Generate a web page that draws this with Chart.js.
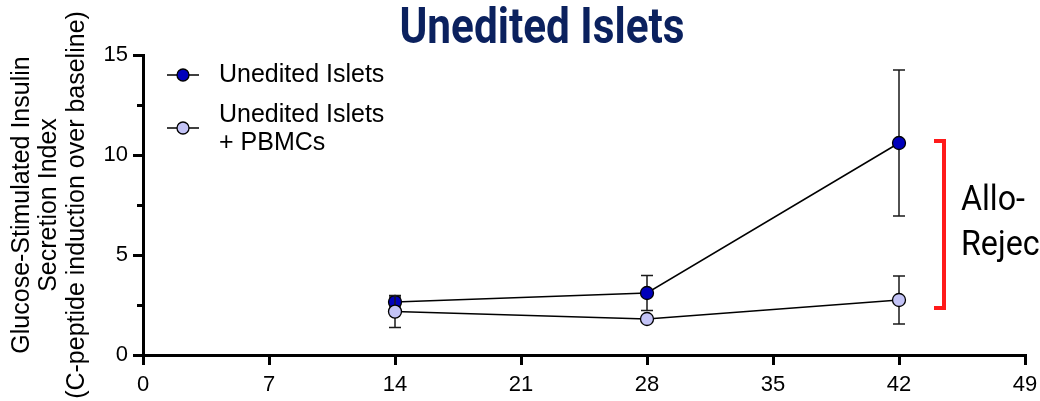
<!DOCTYPE html>
<html>
<head>
<meta charset="utf-8">
<script src="https://cdn.jsdelivr.net/npm/chart.js@4/dist/chart.umd.min.js"></script>
<style>
  html, body { margin: 0; padding: 0; background: #fff; overflow: hidden; }
  #wrap { width: 1040px; height: 401px; position: relative; }
</style>
</head>
<body>
<div id="wrap"><canvas id="c" width="1040" height="401"></canvas></div>
<script>
// Days after transplant and GSIS index (mean ± SEM) per group
const days = [14, 28, 42];
const uneditedMean = [2.65, 3.1, 10.6];
const uneditedSem = [0.25, 0.87, 3.65];
const pbmcMean = [2.17, 1.8, 2.75];
const pbmcSem = [0.8, 0.15, 1.2];

const xTicks = [0, 7, 14, 21, 28, 35, 42, 49];
const yTicks = [0, 5, 10, 15];
const yMinorTicks = [2.5, 7.5, 12.5];

const chartTitle = 'Unedited Islets';
const seriesNames = [['Unedited Islets'], ['Unedited Islets', '+ PBMCs']];
const yTitle = ['Glucose-Stimulated Insulin', 'Secretion Index', '(C-peptide induction over baseline)'];
const rejectionLabel = ['Allo-', 'Rejec'];
const bracketRange = [10.7, 2.35];   // y-values spanned by the red bracket
const bracketDay = 44.5;

const darkFill = '#0000bb';
const lightFill = '#c3c3f6';
const sansFont = '"Liberation Sans", Arial, sans-serif';

// error bars are drawn just before each dataset, so later datasets overlay them
const errorBars = {
  id: 'errorBars',
  beforeDatasetDraw(chart, args) {
    const ds = chart.data.datasets[args.index];
    const xs = chart.scales.x, ys = chart.scales.y, ctx = chart.ctx;
    ctx.save();
    ctx.strokeStyle = '#1a1a1a';
    ctx.lineWidth = 1.5;
    ds.data.forEach((p, i) => {
      const e = ds.errors[i];
      const px = xs.getPixelForValue(p.x);
      const top = ys.getPixelForValue(p.y + e);
      const bot = ys.getPixelForValue(p.y - e);
      ctx.beginPath();
      ctx.moveTo(px, top); ctx.lineTo(px, bot);
      ctx.moveTo(px - 6, top); ctx.lineTo(px + 6, top);
      ctx.moveTo(px - 6, bot); ctx.lineTo(px + 6, bot);
      ctx.stroke();
    });
    ctx.restore();
  }
};

// title, axis title, minor ticks, legend and bracket annotation
const decorations = {
  id: 'decorations',
  afterDraw(chart) {
    const ctx = chart.ctx, area = chart.chartArea;
    const xs = chart.scales.x, ys = chart.scales.y;

    // minor y ticks
    ctx.save();
    ctx.strokeStyle = '#000';
    ctx.lineWidth = 3;
    yMinorTicks.forEach(v => {
      const py = Math.round(ys.getPixelForValue(v)) + 0.5;
      ctx.beginPath();
      ctx.moveTo(area.left - 6, py);
      ctx.lineTo(area.left, py);
      ctx.stroke();
    });
    ctx.restore();

    // chart title (condensed bold)
    ctx.save();
    ctx.font = '700 50px Roboto';
    const tw = ctx.measureText(chartTitle).width;
    ctx.translate(542, 43);
    ctx.scale(285 / tw, 1);
    ctx.fillStyle = '#0b215e';
    ctx.textAlign = 'center';
    ctx.textBaseline = 'alphabetic';
    ctx.fillText(chartTitle, 0, 0);
    ctx.restore();

    // y axis title, three rotated lines
    ctx.save();
    const cy = (area.top + area.bottom) / 2;
    ctx.translate(0, cy);
    ctx.rotate(-Math.PI / 2);
    ctx.font = '25px ' + sansFont;
    ctx.fillStyle = '#000';
    ctx.textAlign = 'center';
    ctx.textBaseline = 'middle';
    yTitle.forEach((t, i) => ctx.fillText(t, 0, 22 + i * 27.5));
    ctx.restore();

    // legend
    ctx.save();
    const entries = [
      { fill: darkFill, y: 75, lines: seriesNames[0], textY: 75 },
      { fill: lightFill, y: 128, lines: seriesNames[1], textY: 115 }
    ];
    entries.forEach(en => {
      ctx.strokeStyle = '#000';
      ctx.lineWidth = 1.5;
      ctx.beginPath();
      ctx.moveTo(167, en.y); ctx.lineTo(199, en.y);
      ctx.stroke();
      ctx.beginPath();
      ctx.arc(183, en.y, 6, 0, Math.PI * 2);
      ctx.fillStyle = en.fill;
      ctx.fill();
      ctx.lineWidth = 1.3;
      ctx.stroke();
      ctx.fillStyle = '#000';
      ctx.font = '25px ' + sansFont;
      ctx.textAlign = 'left';
      ctx.textBaseline = 'middle';
      en.lines.forEach((t, i) => ctx.fillText(t, 219, en.textY + i * 28));
    });
    ctx.restore();

    // red bracket and its label
    ctx.save();
    const bx = xs.getPixelForValue(bracketDay);
    const bTop = ys.getPixelForValue(bracketRange[0]);
    const bBot = ys.getPixelForValue(bracketRange[1]);
    ctx.strokeStyle = '#ff1a1a';
    ctx.lineWidth = 4;
    ctx.lineJoin = 'miter';
    ctx.beginPath();
    ctx.moveTo(bx - 10, bTop);
    ctx.lineTo(bx, bTop);
    ctx.lineTo(bx, bBot);
    ctx.lineTo(bx - 10, bBot);
    ctx.stroke();
    ctx.fillStyle = '#000';
    ctx.font = '35px Roboto';
    ctx.textAlign = 'left';
    ctx.textBaseline = 'alphabetic';
    const aw = ctx.measureText(rejectionLabel[0]).width;
    ctx.translate(bx + 17, 0);
    ctx.scale(64 / aw, 1);
    rejectionLabel.forEach((t, i) => ctx.fillText(t, 0, 210 + i * 45));
    ctx.restore();
  }
};

const toPoints = (ys) => days.map((d, i) => ({ x: d, y: ys[i] }));

new Chart(document.getElementById('c'), {
  type: 'line',
  data: {
    datasets: [
      {
        label: seriesNames[0].join(' '),
        data: toPoints(uneditedMean),
        errors: uneditedSem,
        order: 1,
        borderColor: '#000',
        borderWidth: 1.5,
        backgroundColor: darkFill,
        pointBackgroundColor: darkFill,
        pointBorderColor: '#000',
        pointBorderWidth: 1.3,
        pointRadius: 6.5,
        tension: 0
      },
      {
        label: seriesNames[1].join(' '),
        data: toPoints(pbmcMean),
        errors: pbmcSem,
        order: 0,
        borderColor: '#000',
        borderWidth: 1.5,
        backgroundColor: lightFill,
        pointBackgroundColor: lightFill,
        pointBorderColor: '#000',
        pointBorderWidth: 1.3,
        pointRadius: 6.5,
        tension: 0
      }
    ]
  },
  options: {
    responsive: false,
    animation: false,
    devicePixelRatio: 1,
    layout: { padding: { top: 55, right: 15, left: 0, bottom: 0 } },
    plugins: { legend: { display: false }, tooltip: { enabled: false }, title: { display: false } },
    scales: {
      x: {
        type: 'linear',
        min: 0,
        max: 49,
        afterBuildTicks: s => { s.ticks = xTicks.map(v => ({ value: v })); },
        afterFit: s => { s.height = 46; s.paddingLeft = 0; s.paddingRight = 0; },
        border: { display: true, width: 3, color: '#000' },
        grid: { drawOnChartArea: false, drawTicks: true, color: '#000', lineWidth: 3, tickLength: 10 },
        ticks: { color: '#000', font: { family: sansFont, size: 22 }, padding: 7, maxRotation: 0, autoSkip: false }
      },
      y: {
        type: 'linear',
        min: 0,
        max: 15,
        afterBuildTicks: s => { s.ticks = yTicks.map(v => ({ value: v })); },
        afterFit: s => { s.width = 143; s.paddingTop = 0; s.paddingBottom = 0; },
        border: { display: true, width: 3, color: '#000' },
        grid: { drawOnChartArea: false, drawTicks: true, color: '#000', lineWidth: 3, tickLength: 10 },
        ticks: { color: '#000', font: { family: sansFont, size: 22 }, padding: 5, autoSkip: false }
      }
    }
  },
  plugins: [errorBars, decorations]
});
</script>
</body>
</html>
